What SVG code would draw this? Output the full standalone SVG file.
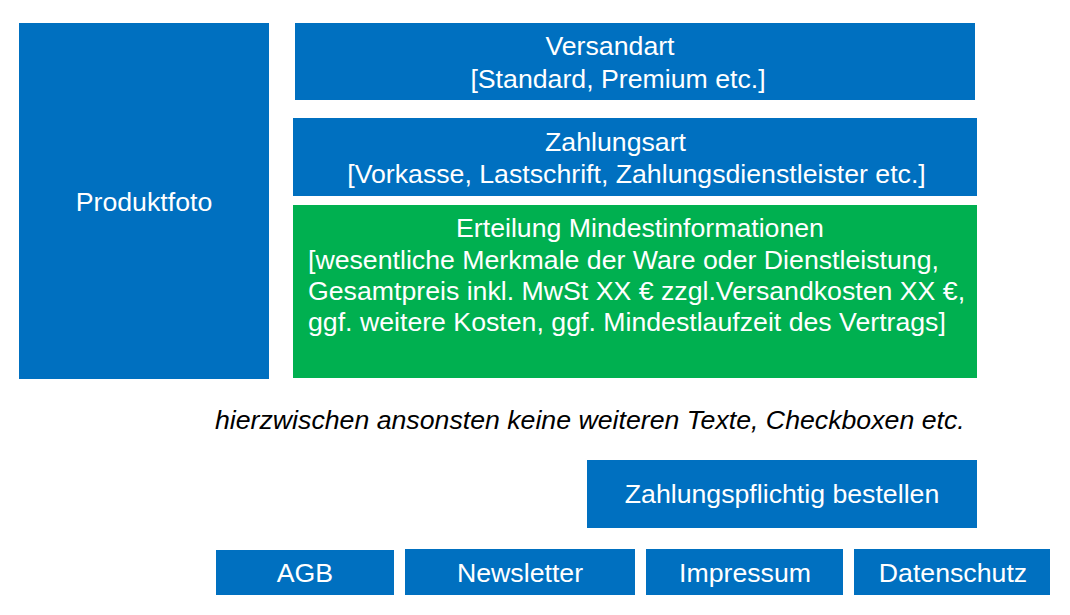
<svg xmlns="http://www.w3.org/2000/svg" width="1070" height="615" viewBox="0 0 1070 615">
<style>
.blue{fill:#0070C0}
.green{fill:#00B050}
.t{font-family:"Liberation Sans",Arial,sans-serif;font-size:26.7px;fill:#FFFFFF}
.c{text-anchor:middle}
.note{font-family:"Liberation Sans",Arial,sans-serif;font-size:26.7px;font-style:italic;fill:#000000}
</style>
<rect width="1070" height="615" fill="#FFFFFF"/>
<g id="produktfoto">
<rect class="blue" x="19" y="23" width="250" height="356"/>
<text class="t c" x="144" y="211">Produktfoto</text>
</g>
<g id="versandart">
<rect class="blue" x="295" y="23" width="680" height="77"/>
<text class="t c" x="610" y="55">Versandart</text>
<text class="t c" x="618" y="88">[Standard, Premium etc.]</text>
</g>
<g id="zahlungsart">
<rect class="blue" x="293" y="118" width="684" height="78"/>
<text class="t c" x="615.5" y="151">Zahlungsart</text>
<text class="t c" x="636.5" y="183">[Vorkasse, Lastschrift, Zahlungsdienstleister etc.]</text>
</g>
<g id="mindestinformationen">
<rect class="green" x="293" y="205" width="684" height="173"/>
<text class="t c" x="640" y="237">Erteilung Mindestinformationen</text>
<text class="t" x="308" y="269">[wesentliche Merkmale der Ware oder Dienstleistung,</text>
<text class="t" x="308" y="300">Gesamtpreis inkl. MwSt XX € zzgl.Versandkosten XX €,</text>
<text class="t" x="308" y="331">ggf. weitere Kosten, ggf. Mindestlaufzeit des Vertrags]</text>
</g>
<g id="hinweis">
<text class="note" x="215" y="429">hierzwischen ansonsten keine weiteren Texte, Checkboxen etc.</text>
</g>
<g id="bestellen">
<rect class="blue" x="587" y="460" width="390" height="68"/>
<text class="t c" x="782" y="503">Zahlungspflichtig bestellen</text>
</g>
<g id="agb">
<rect class="blue" x="216" y="550" width="178" height="45"/>
<text class="t c" x="305" y="582">AGB</text>
</g>
<g id="newsletter">
<rect class="blue" x="405" y="549" width="230" height="46"/>
<text class="t c" x="520" y="582">Newsletter</text>
</g>
<g id="impressum">
<rect class="blue" x="646" y="549" width="197" height="46"/>
<text class="t c" x="745" y="582">Impressum</text>
</g>
<g id="datenschutz">
<rect class="blue" x="854" y="549" width="196" height="46"/>
<text class="t c" x="953" y="582">Datenschutz</text>
</g>
<g id="connectors"></g>
</svg>
